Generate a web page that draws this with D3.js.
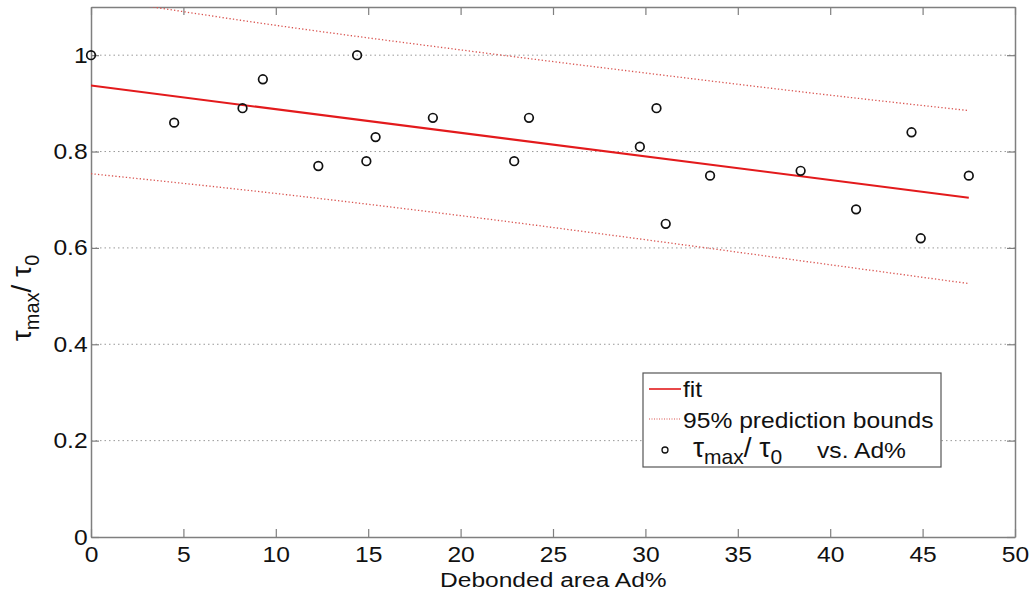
<!DOCTYPE html>
<html>
<head>
<meta charset="utf-8">
<script src="https://cdn.jsdelivr.net/npm/d3@7"></script>
<style>
  body { margin: 0; background: #fff; }
  text { font-family: "Liberation Sans", Arial, sans-serif; fill: #111; }
</style>
</head>
<body>
<div id="chart"></div>
<script>
// measured points: debonded area (%) vs tau_max / tau_0
const areaPct = [0, 4.5, 8.2, 9.3, 12.3, 14.4, 14.9, 15.4, 18.5, 22.9, 23.7, 29.7, 30.6, 31.1, 33.5, 38.4, 41.4, 44.4, 44.9, 47.5];
const tauRatio = [1.0, 0.86, 0.89, 0.95, 0.77, 1.0, 0.78, 0.83, 0.87, 0.78, 0.87, 0.81, 0.89, 0.65, 0.75, 0.76, 0.68, 0.84, 0.62, 0.75];

// linear fit and 95% prediction bounds
const fitX = [0, 47.5];
const fitY = [0.937, 0.704];
const boundX = [0, 10, 20, 30, 40, 47.5];
const upperBound = [1.12, 1.062, 1.011, 0.963, 0.917, 0.885];
const lowerBound = [0.754, 0.713, 0.667, 0.617, 0.565, 0.526];

const xTicks = [0, 5, 10, 15, 20, 25, 30, 35, 40, 45, 50];
const yTicks = [0, 0.2, 0.4, 0.6, 0.8, 1];

const width = 1036;
const height = 598;
const margin = { left: 91, right: 21, top: 7, bottom: 61 };

const svg = d3.select("#chart")
  .append("svg")
  .attr("width", width)
  .attr("height", height);

const x = d3.scaleLinear().domain([0, 50]).range([margin.left, width - margin.right]);
const y = d3.scaleLinear().domain([0, 1.1]).range([height - margin.bottom, margin.top]);

svg.append("clipPath").attr("id", "plotClip")
  .append("rect")
  .attr("x", x(0)).attr("y", y(1.1))
  .attr("width", x(50) - x(0)).attr("height", y(0) - y(1.1));

// dotted horizontal grid
svg.append("g")
  .selectAll("line")
  .data(yTicks.filter(d => d > 0))
  .enter()
  .append("line")
  .attr("x1", x(0)).attr("x2", x(50))
  .attr("y1", d => y(d)).attr("y2", d => y(d))
  .attr("stroke", "#999")
  .attr("stroke-width", 1)
  .attr("stroke-dasharray", "1.5,3");

// axes with inward ticks, box style
const axisColor = "#7f7f7f";
function styleAxis(g, hideText) {
  g.select(".domain").attr("stroke", axisColor).attr("stroke-width", 1.5);
  g.selectAll(".tick line").attr("stroke", axisColor).attr("stroke-width", 1.2);
  g.selectAll(".tick text")
    .attr("font-size", 22)
    .attr("fill", "#111")
    .attr("transform", "scale(1.12,1)");
  if (hideText) g.selectAll(".tick text").remove();
}

svg.append("g")
  .attr("transform", `translate(0,${y(0)})`)
  .call(d3.axisBottom(x).tickValues(xTicks).tickFormat(d3.format("d")).tickSizeInner(-8).tickSizeOuter(0).tickPadding(9))
  .call(g => styleAxis(g, false));

svg.append("g")
  .attr("transform", `translate(0,${y(1.1)})`)
  .call(d3.axisTop(x).tickValues(xTicks).tickSizeInner(-8).tickSizeOuter(0))
  .call(g => styleAxis(g, true));

svg.append("g")
  .attr("transform", `translate(${x(0)},0)`)
  .call(d3.axisLeft(y).tickValues(yTicks).tickFormat(d => d === 0 ? "0" : d === 1 ? "1" : d3.format(".1f")(d)).tickSizeInner(-8).tickSizeOuter(0).tickPadding(3))
  .call(g => styleAxis(g, false));

svg.append("g")
  .attr("transform", `translate(${x(50)},0)`)
  .call(d3.axisRight(y).tickValues(yTicks).tickSizeInner(-8).tickSizeOuter(0))
  .call(g => styleAxis(g, true));

// prediction bounds
const plot = svg.append("g").attr("clip-path", "url(#plotClip)");
const boundLine = d3.line().x(d => x(d[0])).y(d => y(d[1])).curve(d3.curveMonotoneX);
[upperBound, lowerBound].forEach(b => {
  plot.append("path")
    .datum(boundX.map((v, i) => [v, b[i]]))
    .attr("d", boundLine)
    .attr("fill", "none")
    .attr("stroke", "#d9534f")
    .attr("stroke-width", 1.3)
    .attr("stroke-dasharray", "1.3,2.2");
});

// fit line
plot.append("path")
  .datum(fitX.map((v, i) => [v, fitY[i]]))
  .attr("d", d3.line().x(d => x(d[0])).y(d => y(d[1])))
  .attr("fill", "none")
  .attr("stroke", "#e31a1c")
  .attr("stroke-width", 2);

// data points
svg.append("g")
  .selectAll("circle")
  .data(areaPct.map((v, i) => [v, tauRatio[i]]))
  .enter()
  .append("circle")
  .attr("cx", d => x(d[0]))
  .attr("cy", d => y(d[1]))
  .attr("r", 4.3)
  .attr("fill", "none")
  .attr("stroke", "#111")
  .attr("stroke-width", 1.7);

// stretched text helper: text placed at (tx, ty), widened by sx
function wideText(parent, tx, ty, sx, size, str) {
  return parent.append("text")
    .attr("transform", `translate(${tx},${ty}) scale(${sx},1)`)
    .attr("font-size", size)
    .text(str);
}

// axis titles
wideText(svg, 440, 587, 1.17, 21, "Debonded area Ad%");

const yLab = svg.append("text")
  .attr("transform", "translate(31,298) rotate(-90)")
  .attr("text-anchor", "middle")
  .attr("font-size", 28);
yLab.append("tspan").text("τ");
yLab.append("tspan").attr("font-size", 20).attr("dy", 8).text("max");
yLab.append("tspan").attr("dy", -8).text("/ τ");
yLab.append("tspan").attr("font-size", 20).attr("dy", 8).text("0");

// legend
const lg = svg.append("g");
lg.append("rect")
  .attr("x", 643).attr("y", 373)
  .attr("width", 298).attr("height", 94)
  .attr("fill", "#fff")
  .attr("stroke", "#555")
  .attr("stroke-width", 1.2);

lg.append("line")
  .attr("x1", 649).attr("x2", 681).attr("y1", 389).attr("y2", 389)
  .attr("stroke", "#e31a1c").attr("stroke-width", 1.6);
wideText(lg, 683, 397, 1.12, 22, "fit");

lg.append("line")
  .attr("x1", 649).attr("x2", 681).attr("y1", 419).attr("y2", 419)
  .attr("stroke", "#d9534f").attr("stroke-width", 1.1).attr("stroke-dasharray", "1,1.5");
wideText(lg, 683, 428, 1.12, 22, "95% prediction bounds");

lg.append("circle")
  .attr("cx", 665).attr("cy", 450).attr("r", 3)
  .attr("fill", "none").attr("stroke", "#111").attr("stroke-width", 1.3);
const lt = lg.append("text").attr("x", 693).attr("y", 457).attr("font-size", 28);
lt.append("tspan").text("τ");
lt.append("tspan").attr("font-size", 21).attr("dy", 7).text("max");
lt.append("tspan").attr("dy", -7).text("/ τ");
lt.append("tspan").attr("font-size", 21).attr("dy", 7).text("0");
wideText(lg, 817, 458, 1.12, 22, "vs. Ad%");
</script>
</body>
</html>
